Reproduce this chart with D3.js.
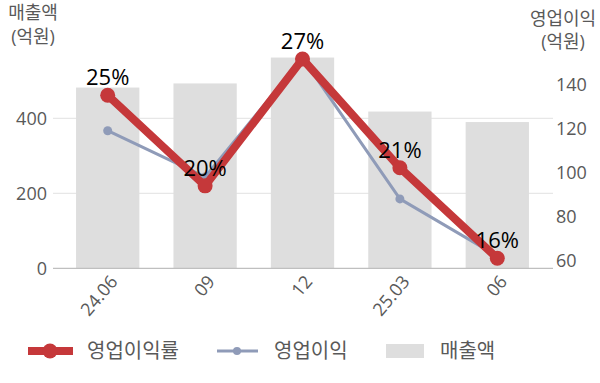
<!DOCTYPE html>
<html>
<head>
<meta charset="utf-8">
<script src="https://cdn.jsdelivr.net/npm/d3@7"></script>
<style>
  body { margin: 0; background: #fff; }
  text { font-family: "Open Sans", "Noto Sans CJK KR", sans-serif; }
</style>
</head>
<body>
<div id="chart"></div>
<script>
(function () {

    /* data */
    var periods  = ["24.06", "09", "12", "25.03", "06"];
    var revenue  = [482, 493, 562, 418, 390];   // 매출액 (억원)
    var opProfit = [119, 98, 152, 88, 62];      // 영업이익 (억원)
    var opMargin = [25, 20, 27, 21, 16];        // 영업이익률 (%)

    var leftTicks  = [0, 200, 400];
    var rightTicks = [60, 80, 100, 120, 140];

    var RED  = "#c5383a";
    var GRAY = "#8f9bb8";
    var BAR  = "#dedede";
    var TXT  = "#595959";

    var W = 600, H = 383;

    var svg = d3.select("#chart").append("svg")
        .attr("width", W).attr("height", H);

    /* scales */
    var x = d3.scaleBand()
        .domain(periods)
        .range([59, 546])
        .paddingInner(0.35)
        .paddingOuter(0.175);

    var yLeft  = d3.scaleLinear().domain([0, 600]).range([268.3, 43.3]);
    var yRight = d3.scaleLinear().domain([60, 140]).range([260.5, 84.5]);
    var yPct   = d3.scaleLinear().domain([16, 27]).range([258.3, 59]);

    var X0 = 53, X1 = 553;

    /* gridlines */
    svg.selectAll(".grid")
        .data(leftTicks.filter(function (d) { return d > 0; }))
        .enter().append("line")
        .attr("x1", X0).attr("x2", X1)
        .attr("y1", function (d) { return yLeft(d); })
        .attr("y2", function (d) { return yLeft(d); })
        .attr("stroke", "#e2e2e2").attr("stroke-width", 1);

    /* bars */
    svg.selectAll(".bar")
        .data(revenue)
        .enter().append("rect")
        .attr("x", function (d, i) { return x(periods[i]); })
        .attr("width", x.bandwidth())
        .attr("y", function (d) { return yLeft(d); })
        .attr("height", function (d) { return yLeft(0) - yLeft(d); })
        .attr("fill", BAR);

    /* baseline */
    svg.append("line")
        .attr("x1", X0).attr("x2", X1)
        .attr("y1", yLeft(0)).attr("y2", yLeft(0))
        .attr("stroke", "#bfbfbf").attr("stroke-width", 1.3);

    function cx(i) { return x(periods[i]) + x.bandwidth() / 2; }

    /* operating profit line */
    var grayLine = d3.line()
        .x(function (d, i) { return cx(i); })
        .y(function (d) { return yRight(d); });

    svg.append("path")
        .datum(opProfit)
        .attr("d", grayLine)
        .attr("fill", "none")
        .attr("stroke", GRAY).attr("stroke-width", 3)
        .attr("stroke-linejoin", "round");

    svg.selectAll(".gdot")
        .data(opProfit)
        .enter().append("circle")
        .attr("cx", function (d, i) { return cx(i); })
        .attr("cy", function (d) { return yRight(d); })
        .attr("r", 4.5)
        .attr("fill", GRAY);

    /* operating margin line */
    var redLine = d3.line()
        .x(function (d, i) { return cx(i); })
        .y(function (d) { return yPct(d); });

    svg.append("path")
        .datum(opMargin)
        .attr("d", redLine)
        .attr("fill", "none")
        .attr("stroke", RED).attr("stroke-width", 8)
        .attr("stroke-linejoin", "round");

    svg.selectAll(".rdot")
        .data(opMargin)
        .enter().append("circle")
        .attr("cx", function (d, i) { return cx(i); })
        .attr("cy", function (d) { return yPct(d); })
        .attr("r", 7.5)
        .attr("fill", RED);

    /* margin labels */
    svg.selectAll(".plabel")
        .data(opMargin)
        .enter().append("text")
        .attr("x", function (d, i) { return cx(i); })
        .attr("y", function (d) { return yPct(d) - 10; })
        .attr("text-anchor", "middle")
        .attr("font-size", 22)
        .attr("fill", "#000")
        .text(function (d) { return d + "%"; });

    /* left axis labels */
    svg.selectAll(".lt")
        .data(leftTicks)
        .enter().append("text")
        .attr("x", 47)
        .attr("y", function (d) { return yLeft(d); })
        .attr("dy", "0.35em")
        .attr("text-anchor", "end")
        .attr("font-size", 18)
        .attr("fill", TXT)
        .text(function (d) { return d; });

    /* right axis labels */
    svg.selectAll(".rt")
        .data(rightTicks)
        .enter().append("text")
        .attr("x", 556)
        .attr("y", function (d) { return yRight(d); })
        .attr("dy", "0.35em")
        .attr("font-size", 18)
        .attr("fill", TXT)
        .text(function (d) { return d; });

    /* x labels */
    svg.selectAll(".xt")
        .data(periods)
        .enter().append("text")
        .attr("transform", function (d, i) {
            return "translate(" + (cx(i) + 6) + ",278) rotate(-50)";
        })
        .attr("dy", "0.35em")
        .attr("text-anchor", "end")
        .attr("font-size", 18)
        .attr("fill", TXT)
        .text(function (d) { return d; });

    /* axis titles */
    var lt = svg.append("text")
        .attr("text-anchor", "middle")
        .attr("font-size", 18)
        .attr("fill", TXT);
    lt.append("tspan").attr("x", 33).attr("y", 19).text("매출액");
    lt.append("tspan").attr("x", 33).attr("y", 43).text("(억원)");

    var rt = svg.append("text")
        .attr("text-anchor", "middle")
        .attr("font-size", 18)
        .attr("fill", TXT);
    rt.append("tspan").attr("x", 563).attr("y", 24.5).text("영업이익");
    rt.append("tspan").attr("x", 563).attr("y", 48).text("(억원)");

    /* legend */
    var LY = 351;
    var leg = svg.append("g");

    leg.append("line")
        .attr("x1", 28).attr("x2", 73).attr("y1", LY).attr("y2", LY)
        .attr("stroke", RED).attr("stroke-width", 8);
    leg.append("circle").attr("cx", 50).attr("cy", LY).attr("r", 7.5).attr("fill", RED);
    leg.append("text").attr("x", 87).attr("y", LY).attr("dy", "0.35em")
        .attr("font-size", 20).attr("fill", TXT).text("영업이익률");

    leg.append("line")
        .attr("x1", 217).attr("x2", 258).attr("y1", LY).attr("y2", LY)
        .attr("stroke", GRAY).attr("stroke-width", 3);
    leg.append("circle").attr("cx", 237).attr("cy", LY).attr("r", 4).attr("fill", GRAY);
    leg.append("text").attr("x", 274).attr("y", LY).attr("dy", "0.35em")
        .attr("font-size", 20).attr("fill", TXT).text("영업이익");

    leg.append("rect")
        .attr("x", 386).attr("y", 344).attr("width", 38).attr("height", 14)
        .attr("fill", BAR);
    leg.append("text").attr("x", 440).attr("y", LY).attr("dy", "0.35em")
        .attr("font-size", 20).attr("fill", TXT).text("매출액");

}());
</script>
</body>
</html>
